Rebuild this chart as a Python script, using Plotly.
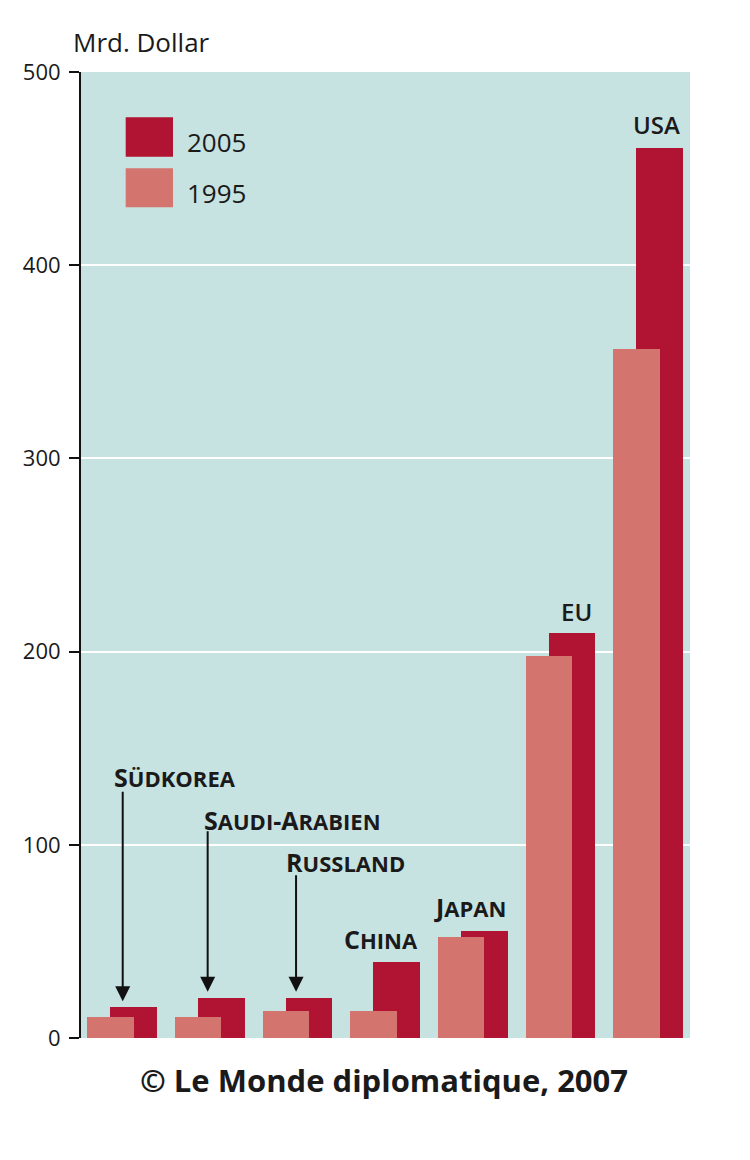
import plotly.graph_objects as go

# ---- data ----
countries = ["Südkorea", "Saudi-Arabien", "Russland", "China", "Japan", "EU", "USA"]
values_1995 = [10.9, 10.8, 14.1, 14.1, 52.3, 197.8, 356.7]
values_2005 = [16.0, 20.9, 20.9, 39.2, 55.2, 209.8, 460.7]
y_ticks = [0, 100, 200, 300, 400, 500]
series_names = ["2005", "1995"]

# ---- styles ----
BG = "#c6e2e1"
DARK = "#b01432"
LIGHT = "#d3756e"
TXT = "#1a1a1a"
FONT = "Open Sans"
BAR_W = 0.53
DARK_OFF = 0.263

# page body has an 8px margin: work in window pixels, then shift
OFF = 8
W, H = 750 - OFF, 1160 - OFF
L = 81 - OFF
T = 72 - OFF
R = 750 - 690
B = 1160 - 1038.3

def px_x(p):
    return (p - OFF - L) / (W - L - R)

def px_y(p):
    return 1 - (p - OFF - T) / (H - T - B)

def small_caps(s, big=25, small=22):
    out = []
    for ch in s:
        if ch.isalpha() and ch.islower():
            out.append(f"<span style='font-size:{small}px'>{ch.upper()}</span>")
        else:
            out.append(f"<span style='font-size:{big}px'>{ch}</span>")
    return "".join(out)

xpos = list(range(len(countries)))

fig = go.Figure()
fig.add_trace(go.Bar(
    x=xpos, y=values_2005, width=BAR_W, offset=DARK_OFF,
    marker=dict(color=DARK, line=dict(width=0)), name=series_names[0],
    showlegend=False,
))
fig.add_trace(go.Bar(
    x=xpos, y=values_1995, width=BAR_W, offset=0,
    marker=dict(color=LIGHT, line=dict(width=0)), name=series_names[1],
    showlegend=False,
))

annotations = []
label_layout = [
    dict(kind="arrow", tx=1.0, ty=135.2, ax=0.404, tail=211),
    dict(kind="arrow", tx=1.335, ty=112.9, ax=0.373, tail=162),
    dict(kind="arrow", tx=0.949, ty=91.2, ax=0.381, tail=118),
    dict(kind="above", xa="right", dx=DARK_OFF + BAR_W, ys=4),
    dict(kind="above", xa="right", dx=DARK_OFF + BAR_W, ys=5),
    dict(kind="above", xa="center", dx=DARK_OFF + BAR_W / 2 + 0.05, ys=3),
    dict(kind="above", xa="center", dx=DARK_OFF + BAR_W / 2 - 0.035, ys=5),
]
for i, (name, lay) in enumerate(zip(countries, label_layout)):
    allcaps = name.isupper()
    if allcaps:
        txt = name
        f = dict(family=FONT, size=24, color=TXT, weight=600)
    else:
        txt = small_caps(name)
        f = dict(family=FONT, size=25, color=TXT, weight=700)
    if lay["kind"] == "arrow":
        annotations.append(dict(x=i + lay["tx"], y=lay["ty"], xref="x", yref="y",
                                text=txt, showarrow=False, font=f,
                                xanchor="center", yanchor="middle"))
        tip = values_2005[i] + 3
        annotations.append(dict(x=i + lay["ax"], y=tip, xref="x", yref="y",
                                text="", showarrow=True, arrowhead=2,
                                arrowsize=1.5, arrowwidth=2, arrowcolor="#111",
                                ax=0, ay=-lay["tail"], standoff=0))
    else:
        annotations.append(dict(x=i + lay["dx"], y=values_2005[i], xref="x", yref="y",
                                text=txt, showarrow=False, font=f,
                                xanchor=lay["xa"], yanchor="bottom", yshift=lay["ys"]))

# axis unit title
annotations.append(dict(x=px_x(71), y=px_y(42), xref="paper", yref="paper", text="Mrd. Dollar",
                        showarrow=False, font=dict(family=FONT, size=26, color=TXT),
                        xanchor="left", yanchor="middle"))
# credit
annotations.append(dict(x=px_x(383.5), y=px_y(1080), xref="paper", yref="paper",
                        text="© Le Monde diplomatique, 2007", showarrow=False,
                        font=dict(family=FONT, size=31, color=TXT, weight=700),
                        xanchor="center", yanchor="middle"))

# legend swatches + labels
shapes = []
legend_rows = [(DARK, series_names[0], 117.3, 156.7), (LIGHT, series_names[1], 168.3, 207.3)]
for col, lab, y0, y1 in legend_rows:
    shapes.append(dict(type="rect", xref="paper", yref="paper",
                       x0=px_x(125.7), x1=px_x(173), y0=px_y(y1), y1=px_y(y0),
                       fillcolor=col, line=dict(width=0)))
    annotations.append(dict(x=px_x(185), y=px_y((y0 + y1) / 2 + 5), xref="paper", yref="paper",
                            text=lab, showarrow=False,
                            font=dict(family=FONT, size=26, color=TXT),
                            xanchor="left", yanchor="middle"))

fig.update_layout(
    width=W, height=H,
    margin=dict(l=L, r=R, t=T, b=B, pad=0, autoexpand=False),
    paper_bgcolor="white", plot_bgcolor=BG,
    barmode="overlay", bargap=0,
    showlegend=False,
    annotations=annotations, shapes=shapes,
    font=dict(family=FONT, color=TXT),
)
fig.update_xaxes(range=[-0.0719, 6.8746], visible=False, showgrid=False, zeroline=False)
fig.update_yaxes(range=[0, 500], tickvals=y_ticks, ticktext=[str(t) for t in y_ticks],
                 showgrid=True, gridcolor="white", gridwidth=2,
                 showline=True, linecolor="#111", linewidth=2,
                 ticks="outside", ticklen=10, tickwidth=1.5, tickcolor="#111",
                 ticklabelstandoff=4,
                 tickfont=dict(family=FONT, size=22, color=TXT),
                 zeroline=False, fixedrange=True)

fig.write_html("out.html")
